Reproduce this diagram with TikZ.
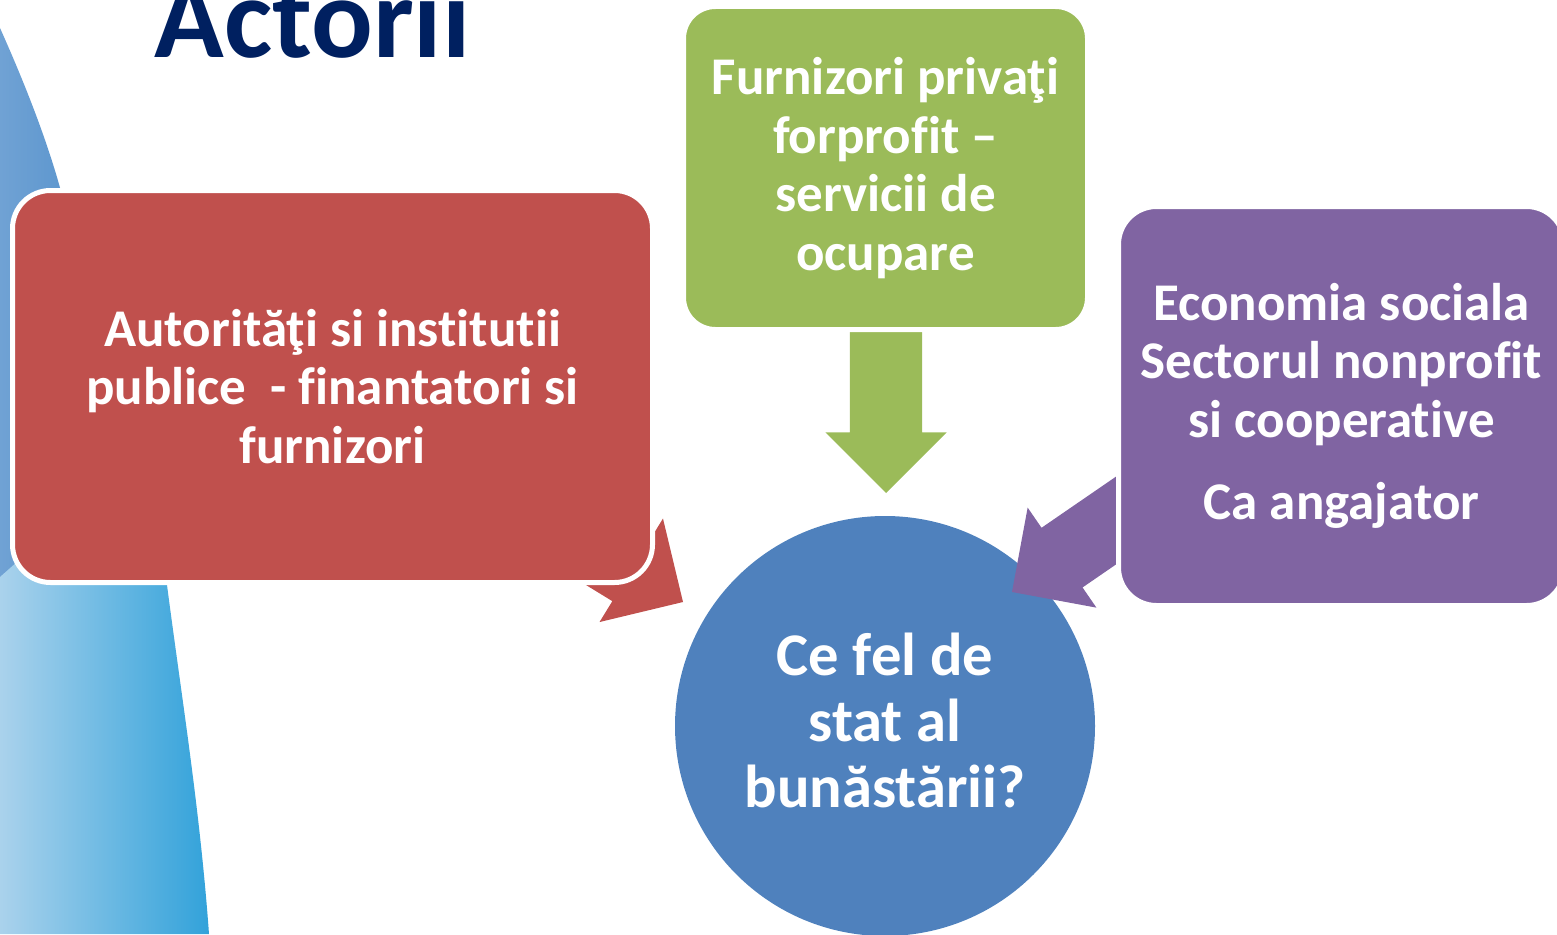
\documentclass[tikz,border=0pt]{standalone}
\usepackage{fontspec}
\setmainfont{Carlito}[Ligatures={NoCommon,NoContextual}]
\usetikzlibrary{shapes.arrows}
\definecolor{cred}{RGB}{192,80,77}
\definecolor{cgreen}{RGB}{155,187,89}
\definecolor{cpurple}{RGB}{128,100,162}
\definecolor{cblue}{RGB}{79,129,189}
\definecolor{cnavy}{RGB}{0,32,96}
\definecolor{darkL}{RGB}{112,162,212}
\definecolor{darkR}{RGB}{72,138,200}
\definecolor{lightL}{RGB}{170,210,236}
\definecolor{lightR}{RGB}{50,162,218}
\tikzset{
  boxtext/.style={text=white, align=center, font=\fontsize{53}{58.5}\selectfont\bfseries},
  actorbox/.style={rectangle, draw=white, line width=5pt, boxtext, inner sep=0pt},
  blockarrow/.style={single arrow, draw=none, inner xsep=0pt, inner ysep=36pt,
    single arrow head extend=24.5pt, single arrow tip angle=90, outer sep=0pt},
}
\begin{document}
\begin{tikzpicture}[x=1pt,y=-1pt]
\useasboundingbox (0,0) rectangle (1557,934);
% background decoration
\shade[left color=darkL, right color=darkR]
  (0,28) .. controls (30,95) and (50,150) .. (62,195) -- (140,420) -- (140,560) -- (0,605) -- cycle;
\shade[left color=lightL, right color=lightR]
  (0,577) -- (70,515) -- (162,515) -- (167,585) .. controls (182,700) and (200,810) .. (209,934) -- (0,934) -- cycle;
% central circle
\node[circle, fill=cblue, minimum size=420pt, inner sep=0pt, text=white, align=center,
  font=\fontsize{60.6}{66}\selectfont\bfseries] (hub) at (885,726)
  {Ce fel de\\stat al\\bunăstării?\rule[-12pt]{0pt}{0pt}};
% block arrows
\node[blockarrow, fill=cred, minimum height=140pt, rotate=-31.5, anchor=tip] (redarrow) at (683,602) {};
\node[blockarrow, fill=cgreen, minimum height=190pt, rotate=-90, anchor=tip] (greenarrow) at (886,493) {};
\node[blockarrow, fill=cpurple, minimum height=200pt, rotate=214.5, anchor=tip] (purplearrow) at (1012,592) {};
% actor boxes
\node[actorbox, fill=cred, rounded corners=38pt, minimum width=640pt, minimum height=392pt] (red) at (332.5,386.5)
  {Autorităţi si institutii\\publice\ \ - finantatori si\\furnizori};
\node[actorbox, fill=cgreen, rounded corners=32pt, minimum width=404pt, minimum height=323pt] (green) at (885.5,168)
  {Furnizori privaţi\\forprofit –\\servicii de\\ocupare};
\node[actorbox, fill=cpurple, rounded corners=38pt, minimum width=446pt, minimum height=399pt] (purple) at (1341.5,406)
  {Economia sociala\\Sectorul nonprofit\\si cooperative\\[24pt]Ca angajator\rule[-3pt]{0pt}{0pt}};
% title
\node[anchor=base, text=cnavy, font=\fontsize{115}{120}\selectfont\bfseries, inner sep=0pt] (title) at (312.5,58) {Actorii};
\end{tikzpicture}
\end{document}
